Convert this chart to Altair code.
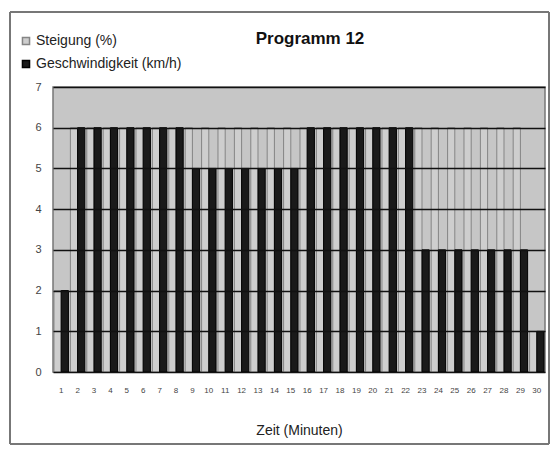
import altair as alt
import pandas as pd

minutes = list(range(1, 31))
steigung = [2] + [6] * 28 + [1]
geschwindigkeit = [2, 6, 6, 6, 6, 6, 6, 6, 5, 5, 5, 5, 5, 5, 5,
                   6, 6, 6, 6, 6, 6, 6, 3, 3, 3, 3, 3, 3, 3, 1]
series_names = ["Steigung (%)", "Geschwindigkeit (km/h)"]
y_ticks = [0, 1, 2, 3, 4, 5, 6, 7]

rows = []
for m, s, g in zip(minutes, steigung, geschwindigkeit):
    rows.append({"Minute": m, "Serie": series_names[0], "Wert": s})
    rows.append({"Minute": m, "Serie": series_names[1], "Wert": g})
df = pd.DataFrame(rows)

FONT = "Liberation Sans"

legend_opts = dict(title=None, orient="none", legendX=-34, legendY=-53,
                   symbolType="square", symbolSize=50,
                   labelFontSize=14, labelFont=FONT, labelColor="#222",
                   rowPadding=9, symbolStrokeWidth=1.5, labelOffset=3)

bars = alt.Chart(df).mark_bar(strokeWidth=1).encode(
    x=alt.X("Minute:O", scale=alt.Scale(paddingInner=0.12, paddingOuter=0.06),
            axis=alt.Axis(labelAngle=0, labelFontSize=8, labelColor="#444",
                          ticks=False, domain=False, labelPadding=14,
                          title="Zeit (Minuten)", titleFontSize=14,
                          titleFontWeight="normal", titleColor="#222",
                          titlePadding=29, titleFont=FONT, labelFont=FONT)),
    xOffset=alt.XOffset("Serie:N", sort=series_names,
                        scale=alt.Scale(domain=series_names, paddingInner=0.0)),
    y=alt.Y("Wert:Q", scale=alt.Scale(domain=[0, 7], nice=False),
            axis=alt.Axis(values=y_ticks, labelFontSize=11, labelColor="#444",
                          ticks=False, domain=False, labelPadding=12,
                          grid=True, gridColor="#111", gridWidth=1.5,
                          title=None, zindex=1, labelFont=FONT)),
    color=alt.Color("Serie:N", sort=series_names,
                    scale=alt.Scale(domain=series_names, range=["#cecece", "#1a1a1a"]),
                    legend=alt.Legend(**legend_opts)),
    stroke=alt.Stroke("Serie:N", sort=series_names,
                      scale=alt.Scale(domain=series_names, range=["#858585", "#000000"]),
                      legend=alt.Legend(**legend_opts)),
)

FL, FR, FT, FB = -43, 496, -75, 357
frame_left = alt.Chart(df).mark_rule(stroke="#777", strokeWidth=1.5).encode(
    x=alt.value(FL), y=alt.value(FT), y2=alt.value(FB))
frame_right = alt.Chart(df).mark_rule(stroke="#777", strokeWidth=1.5).encode(
    x=alt.value(FR), y=alt.value(FT), y2=alt.value(FB))
frame_top = alt.Chart(df).mark_rule(stroke="#777", strokeWidth=1.5).encode(
    x=alt.value(FL), x2=alt.value(FR), y=alt.value(FT))
frame_bottom = alt.Chart(df).mark_rule(stroke="#777", strokeWidth=1.5).encode(
    x=alt.value(FL), x2=alt.value(FR), y=alt.value(FB))

chart = alt.layer(frame_left, frame_right, frame_top, frame_bottom, bars).properties(
    width=492, height=285,
    title=alt.TitleParams("Programm 12", fontSize=17, fontWeight="bold", font=FONT,
                          color="#111", anchor="middle", dx=11, offset=0, dy=50,
                          frame="group", baseline="alphabetic"),
    autosize=alt.AutoSizeParams(type="none"),
    padding={"left": 45, "top": 79, "right": 5, "bottom": 73},
    background="white",
).configure_view(fill="#c6c6c6", stroke="#777", strokeWidth=1.5)

chart.save("out.html", embed_options={"renderer": "svg", "actions": False})
